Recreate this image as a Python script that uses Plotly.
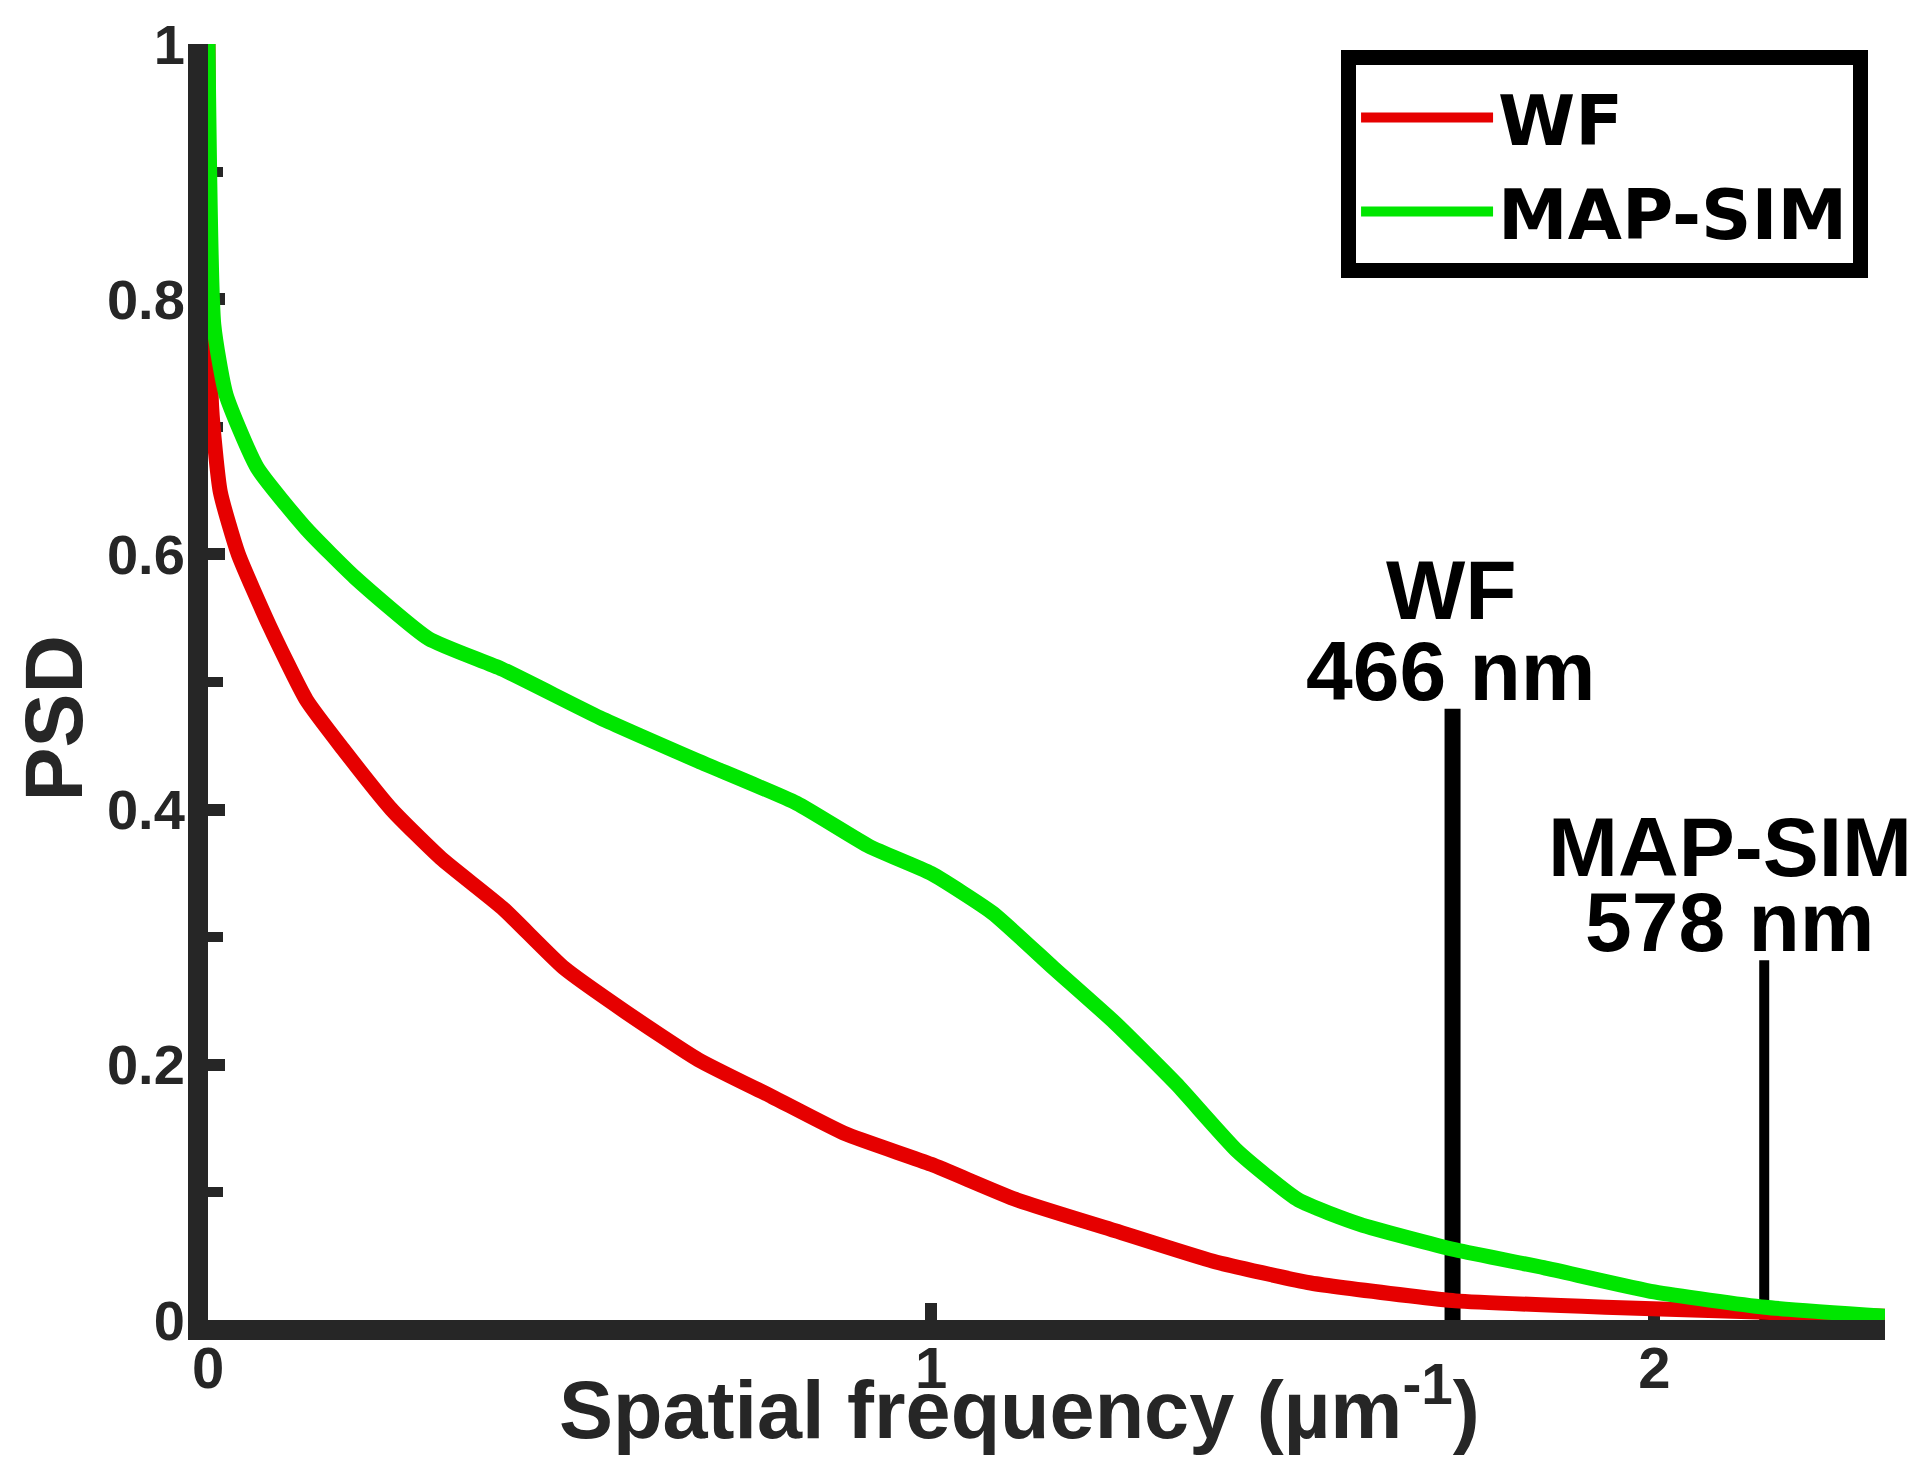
import plotly.graph_objects as go

# ---- data ----
wf_x = [0.0, 0.005, 0.017, 0.042, 0.085, 0.136, 0.186, 0.254, 0.322, 0.407, 0.492,
        0.576, 0.678, 0.780, 0.881, 1.000, 1.119, 1.254, 1.390, 1.525, 1.661,
        1.725, 1.932, 2.153, 2.319]
wf_y = [1.0, 0.716, 0.649, 0.600, 0.544, 0.486, 0.448, 0.400, 0.362, 0.323, 0.276,
        0.242, 0.204, 0.175, 0.146, 0.122, 0.094, 0.070, 0.046, 0.029, 0.019,
        0.015, 0.010, 0.006, 0.003]

sim_x = [0.0, 0.008, 0.025, 0.068, 0.136, 0.203, 0.305, 0.407, 0.542, 0.678, 0.814,
         0.915, 1.000, 1.085, 1.169, 1.254, 1.339, 1.424, 1.508, 1.593, 1.725,
         1.847, 2.000, 2.153, 2.319]
sim_y = [1.0, 0.780, 0.725, 0.668, 0.620, 0.582, 0.534, 0.510, 0.472, 0.438, 0.405,
         0.371, 0.350, 0.319, 0.276, 0.233, 0.185, 0.132, 0.094, 0.075, 0.055,
         0.041, 0.022, 0.010, 0.003]

series_names = ["WF", "MAP-SIM"]
resolution_labels = ["466 nm", "578 nm"]
cutoff_x = [1.721, 2.152]          # spatial frequency of the resolution markers
cutoff_top = [0.479, 0.282]        # height of the marker lines
label_x = [1.719, 2.105]           # centre of the resolution label text
label_y_name = [0.572, 0.371]
label_y_res = [0.509, 0.312]
y_tickvals = [0, 0.2, 0.4, 0.6, 0.8, 1]
y_ticktext = ["0", "0.2", "0.4", "0.6", "0.8", "1"]
x_tickvals = [0, 1, 2]
x_ticktext = ["0", "1", "2"]
x_title = "Spatial frequency (µm<sup>-1</sup>)"
y_title = "PSD"

RED = "#E60000"
GREEN = "#00E600"
AXIS = "#262626"
FONT = "Liberation Sans"

fig = go.Figure()

# resolution marker lines (drawn below the curves)
marker_widths = [16, 10]
for cx, ct, w in zip(cutoff_x, cutoff_top, marker_widths):
    fig.add_trace(go.Scatter(x=[cx, cx], y=[0, ct], mode="lines",
                             line=dict(color="black", width=w),
                             showlegend=False, hoverinfo="skip"))

fig.add_trace(go.Scatter(x=wf_x, y=wf_y, mode="lines", name=series_names[0],
                         line=dict(color=RED, width=15, shape="spline",
                                   smoothing=0.5)))
fig.add_trace(go.Scatter(x=sim_x, y=sim_y, mode="lines", name=series_names[1],
                         line=dict(color=GREEN, width=15, shape="spline",
                                   smoothing=0.5)))

# resolution labels
ann_font = dict(family=FONT, size=84, color="black", weight="bold")
for lx, yn, yr, nm, res in zip(label_x, label_y_name, label_y_res,
                               series_names, resolution_labels):
    fig.add_annotation(x=lx, y=yn, xref="x", yref="y", text=nm,
                       showarrow=False, xanchor="center", yanchor="middle",
                       font=ann_font)
    fig.add_annotation(x=lx, y=yr, xref="x", yref="y", text=res,
                       showarrow=False, xanchor="center", yanchor="middle",
                       font=ann_font)

# axis titles
title_font = dict(family=FONT, size=81, color=AXIS, weight="bold")
fig.add_annotation(x=0.484, y=-0.066, xref="paper", yref="paper", text=x_title,
                   showarrow=False, xanchor="center", yanchor="middle",
                   font=title_font)
fig.add_annotation(x=-0.092, y=0.472, xref="paper", yref="paper", text=y_title,
                   textangle=-90, showarrow=False, xanchor="center",
                   yanchor="middle", font=title_font)

fig.update_layout(
    width=1923, height=1469,
    margin=dict(l=200, r=46, t=36, b=157, autoexpand=False),
    paper_bgcolor="white", plot_bgcolor="white",
    showlegend=True,
    legend=dict(x=0.9899, y=0.995, xanchor="right", yanchor="top",
                bordercolor="black", borderwidth=15, bgcolor="white",
                font=dict(family="DejaVu Sans", size=70, color="black",
                          weight="bold"),
                itemwidth=132, tracegroupgap=0),
    xaxis=dict(range=[0, 2.319], showgrid=False, zeroline=False,
               showline=True, linecolor=AXIS, linewidth=20,
               layer="below traces",
               tickvals=x_tickvals, ticktext=x_ticktext,
               ticks="inside", ticklen=17, tickwidth=12, tickcolor=AXIS,
               tickfont=dict(family=FONT, size=58, color=AXIS, weight="bold"),
               ticklabelstandoff=-22,
               automargin=False),
    yaxis=dict(range=[0, 1], showgrid=False, zeroline=False,
               showline=True, linecolor=AXIS, linewidth=20,
               layer="below traces",
               tickvals=y_tickvals, ticktext=y_ticktext,
               ticks="inside", ticklen=17, tickwidth=12, tickcolor=AXIS,
               minor=dict(dtick=0.1, tick0=0, ticks="inside", ticklen=15,
                          tickwidth=10, tickcolor=AXIS),
               tickfont=dict(family=FONT, size=56, color=AXIS, weight="bold"),
               ticklabelstandoff=-8,
               automargin=False),
)

fig.write_html("out.html")
